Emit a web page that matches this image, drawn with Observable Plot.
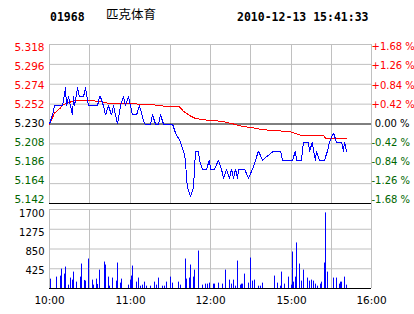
<!DOCTYPE html>
<html><head><meta charset="utf-8">
<script src="https://cdn.jsdelivr.net/npm/d3@7"></script>
<script src="https://cdn.jsdelivr.net/npm/@observablehq/plot@0.6"></script>
<style>
body{margin:0;background:#fff;}
#wrap{position:relative;width:414px;height:314px;overflow:hidden;background:#fff;}
.t{position:absolute;white-space:pre;color:#000;}
.mono{font-family:"DejaVu Sans Mono";font-weight:bold;font-size:11.5px;line-height:12px;top:11px;}
.cjk{font-family:"Noto Sans CJK SC";font-size:12.5px;line-height:14px;top:7px;}
#p1{position:absolute;left:0;top:30px;}
#p2{position:absolute;left:0;top:206px;}
</style></head>
<body>
<div id="wrap">
  <div class="t mono" id="code" style="left:50px"></div>
  <div class="t cjk" id="name" style="left:106px"></div>
  <div class="t mono" id="stamp" style="left:237px"></div>
  <div id="p1"></div>
  <div id="p2"></div>
</div>
<script>
// ---- data ----
const stockCode = "01968";
const stockName = "匹克体育";
const timestamp = "2010-12-13 15:41:33";
const prevClose = 5.230;

const priceTicks = [5.318, 5.296, 5.274, 5.252, 5.230, 5.208, 5.186, 5.164, 5.142];
const volumeTicks = [1700, 1275, 850, 425];
const timeLabels = ["10:00", "11:00", "12:00", "15:00", "16:00"];
const gridTimes = ["10:00","10:30","11:00","11:30","12:00","12:30","15:00","15:30","16:00"];

const priceTimes = ["10:00","10:02","10:04","10:10","10:12","10:13","10:14","10:16","10:17","10:18","10:19","10:21","10:22","10:25","10:27","10:29","10:36","10:37","10:38","10:40","10:42","10:44","10:46","10:48","10:49","10:51","10:53","10:55","10:57","10:59","11:02","11:05","11:07","11:11","11:15","11:17","11:19","11:21","11:23","11:25","11:32","11:34","11:38","11:40","11:41","11:42","11:43","11:45","11:47","11:49","11:51","11:52","11:54","11:57","11:59","12:00","12:03","12:06","12:08","12:10","12:12","12:14","12:16","12:17","12:19","12:20","12:21","12:25","12:28","14:31","14:36","14:39","14:47","14:52","14:54","15:01","15:03","15:04","15:08","15:09","15:13","15:14","15:16","15:17","15:18","15:19","15:21","15:25","15:27","15:29","15:32","15:34","15:38","15:39","15:40","15:41"];
const priceValues = [5.23,5.24,5.25,5.25,5.27,5.25,5.26,5.25,5.24,5.26,5.25,5.27,5.26,5.26,5.27,5.25,5.25,5.26,5.26,5.25,5.24,5.25,5.24,5.25,5.24,5.23,5.25,5.26,5.25,5.26,5.24,5.24,5.25,5.23,5.23,5.24,5.23,5.23,5.24,5.23,5.23,5.22,5.21,5.20,5.19,5.17,5.16,5.15,5.16,5.20,5.20,5.19,5.18,5.18,5.19,5.18,5.18,5.19,5.18,5.17,5.18,5.17,5.18,5.17,5.18,5.17,5.18,5.18,5.17,5.18,5.20,5.19,5.20,5.20,5.19,5.19,5.20,5.19,5.19,5.21,5.21,5.20,5.21,5.20,5.19,5.20,5.19,5.19,5.20,5.21,5.22,5.21,5.21,5.20,5.21,5.20];

const avgTimes = ["10:00","10:02","10:04","10:08","10:10","10:13","10:17","10:20","10:29","10:37","10:44","11:01","11:19","11:27","11:37","11:40","11:44","11:48","11:53","12:02","12:09","12:17","12:24","14:32","14:39","14:49","14:59","15:04","15:07","15:24","15:26","15:41"];
const avgValues = [5.230,5.237,5.242,5.2477,5.251,5.253,5.255,5.256,5.256,5.255,5.253,5.2525,5.251,5.2495,5.249,5.244,5.2395,5.2366,5.2348,5.2337,5.2329,5.230,5.2274,5.2256,5.2237,5.2226,5.2215,5.2193,5.2174,5.2171,5.2145,5.2145];

const volTimes = ["10:01","10:05","10:08","10:09","10:11","10:12","10:14","10:16","10:17","10:18","10:20","10:23","10:24","10:26","10:27","10:29","10:32","10:33","10:35","10:36","10:37","10:41","10:42","10:44","10:45","10:47","10:50","10:51","10:53","10:54","10:59","11:00","11:01","11:02","11:05","11:06","11:08","11:09","11:11","11:12","11:15","11:18","11:20","11:21","11:24","11:26","11:27","11:30","11:32","11:36","11:38","11:41","11:42","11:44","11:45","11:47","11:48","11:51","11:54","11:56","11:58","11:59","12:02","12:03","12:06","12:09","12:11","12:14","12:16","12:17","12:19","12:20","12:22","12:23","12:24","12:25","12:28","14:30","14:31","14:33","14:36","14:37","14:39","14:48","14:50","14:52","14:53","14:55","14:58","15:00","15:01","15:02","15:03","15:04","15:06","15:08","15:09","15:12","15:14","15:15","15:17","15:18","15:20","15:22","15:23","15:25","15:26","15:27","15:32","15:34","15:36","15:37","15:38","15:40","15:41"];
const volValues = [201,245,266,417,310,461,72,224,180,353,137,245,526,173,159,634,180,72,202,87,396,569,505,245,50,224,159,548,115,202,72,180,267,483,137,224,50,72,137,50,50,137,72,224,50,50,137,245,115,137,72,634,202,224,505,245,396,806,72,94,94,115,94,94,115,94,396,180,94,180,50,590,72,94,94,310,115,655,159,180,50,50,115,267,115,50,353,94,245,72,785,137,245,980,526,159,396,224,159,180,159,94,50,94,137,548,1627,353,224,224,94,137,137,245,72];

// ---- helpers ----
// trading minutes since 10:00 (lunch break 12:30-14:30 removed)
const toMin = t => { const [h, m] = t.split(":").map(Number); const v = h * 60 + m; return v <= 750 ? v - 600 : v - 870 + 150; };
const price = priceTimes.map((t, i) => ({t: toMin(t), p: priceValues[i]}));
const avg = avgTimes.map((t, i) => ({t: toMin(t), p: avgValues[i]}));
const vol = volTimes.map((t, i) => ({t: toMin(t), v: volValues[i]}));
const grid = gridTimes.map(toMin);

const RED = "#ff0000", GREEN = "#006600", GRAY = "#c0c0c0";
const colorOf = v => Math.abs(v - prevClose) < 1e-9 ? "#000" : (v > prevClose ? RED : GREEN);
const pctText = v => { const p = (v - prevClose) / prevClose * 100; const s = Math.abs(p).toFixed(2); return (Math.abs(p) < 0.005 ? " " : (p > 0 ? "+" : "-")) + s + " %"; };
const FONT = "DejaVu Sans";

document.getElementById("code").textContent = stockCode;
document.getElementById("name").textContent = stockName;
document.getElementById("stamp").textContent = timestamp;

const innerTicks = priceTicks.filter(t => t !== prevClose && t !== priceTicks[priceTicks.length - 1]);
const nT = priceTicks.length - 1;

const p1 = Plot.plot({
  width: 414, height: 176,
  marginTop: 14, marginBottom: 3, marginLeft: 49, marginRight: 43,
  x: {domain: [0, 240], axis: null, round: true},
  y: {domain: [priceTicks[nT], priceTicks[0]], axis: null},
  style: {background: "transparent", fontFamily: FONT, fontSize: "10px"},
  marks: [
    Plot.ruleY(innerTicks, {stroke: GRAY, strokeWidth: 1}),
    Plot.ruleX(grid.slice(0, -1), {stroke: GRAY, strokeWidth: 1}),
    Plot.ruleX(grid.slice(-1), {stroke: GRAY, strokeWidth: 1, insetBottom: -3}),
    Plot.ruleY([prevClose, priceTicks[nT]], {stroke: "#000", strokeWidth: 1}),
    Plot.line(avg, {x: "t", y: "p", stroke: RED, strokeWidth: 1, shapeRendering: "crispEdges"}),
    Plot.line(price, {x: "t", y: "p", stroke: "#0000ff", strokeWidth: 1, shapeRendering: "crispEdges"}),
    ...priceTicks.map((t, i) => Plot.text([t], {
      y: d => d, frameAnchor: "left", textAnchor: "end", dx: -5, dy: 2.7 - 0.78 * i,
      text: d => d.toFixed(3), fill: colorOf(t), fontSize: 10.5, fontFamily: FONT
    })),
    ...priceTicks.map((t, i) => Plot.text([t], {
      y: d => d, frameAnchor: "right", textAnchor: "start", dx: 0, dy: 2.7 - 0.78 * i,
      text: d => pctText(d), fill: colorOf(t), fontSize: 10, fontFamily: FONT
    }))
  ]
});
document.getElementById("p1").appendChild(p1);

const volDy = [4.5, 3.5, 3, 2.3];
const p2 = Plot.plot({
  width: 414, height: 108,
  marginTop: 3, marginBottom: 26, marginLeft: 49, marginRight: 43,
  x: {domain: [0, 240], axis: null, round: true},
  y: {domain: [0, volumeTicks[0]], axis: null},
  style: {background: "transparent", fontFamily: FONT, fontSize: "10px"},
  marks: [
    Plot.ruleY(volumeTicks, {stroke: GRAY, strokeWidth: 1}),
    Plot.ruleX(grid.slice(0, -1), {stroke: GRAY, strokeWidth: 1}),
    Plot.ruleX(grid.slice(-1), {stroke: GRAY, strokeWidth: 1, insetTop: -3}),
    Plot.ruleX(vol, {x: "t", y: "v", stroke: "#0000ff", strokeWidth: 1}),
    Plot.ruleY([0], {stroke: "#000", strokeWidth: 1}),
    ...volumeTicks.map((t, i) => Plot.text([t], {
      y: d => d, frameAnchor: "left", textAnchor: "end", dx: -5, dy: volDy[i],
      text: d => String(d), fill: "#000", fontSize: 10, fontFamily: FONT
    })),
    Plot.text(timeLabels, {
      x: d => toMin(d), frameAnchor: "bottom", lineAnchor: "top", dy: 8,
      text: d => d, fill: "#000", fontSize: 10.5, fontFamily: FONT
    })
  ]
});
document.getElementById("p2").appendChild(p2);
</script>
</body></html>
